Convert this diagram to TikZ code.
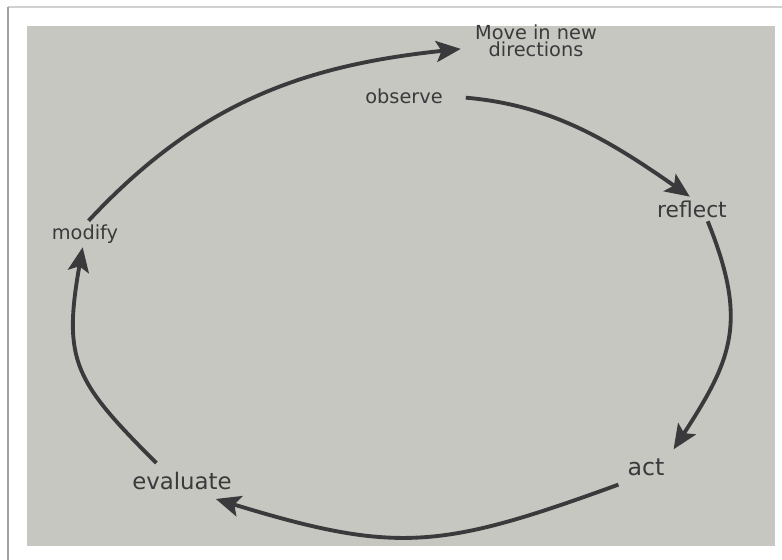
\documentclass[tikz,border=0pt]{standalone}
\usepackage{fontspec}
\setmainfont{DejaVu Sans}
\usetikzlibrary{arrows.meta}
\definecolor{pagegray}{RGB}{199,199,193}
\definecolor{inkgray}{RGB}{58,58,60}
\definecolor{framegray}{RGB}{160,160,160}

\begin{document}
\begin{tikzpicture}[x=0.02cm,y=0.02cm,
    stage/.style={text=inkgray, inner sep=2pt},
    looparrow/.style={draw=inkgray, line width=2.2pt, -{Stealth[length=14pt,width=12pt,inset=3pt]}}]
  \useasboundingbox (0,0) rectangle (782,560);
  % photo frame
  \draw[framegray!50, line width=0.6pt] (8,553) -- (782,553);
  \draw[framegray, line width=1.4pt] (8,553) -- (8,0);
  \fill[pagegray] (27,14) rectangle (775,534);
  % stages
  \node[stage, font=\fontsize{11}{7.5}\selectfont, align=center, inner xsep=8pt] (move) at (536,519) {Move in new\\directions};
  \node[stage, font=\fontsize{11}{13}\selectfont] (observe) at (404,464) {observe};
  \node[stage, font=\fontsize{12.4}{14}\selectfont] (reflect) at (692,351) {reflect};
  \node[stage, font=\fontsize{13.5}{15}\selectfont, inner sep=5pt] (act) at (646,93) {act};
  \node[stage, font=\fontsize{13}{15}\selectfont, inner sep=5pt] (evaluate) at (182,79) {evaluate};
  \node[stage, font=\fontsize{11}{13}\selectfont] (modify) at (85,326) {modify};
  % cycle
  \draw[looparrow] (modify.75) to[out=47, in=186] (move.186);
  \draw[looparrow, shorten <=11pt] (observe.east) to[out=-5, in=145] (reflect.100);
  \draw[looparrow] (reflect.-38) to[out=-68, in=57, looseness=1.2] (act.north east);
  \draw[looparrow] (act.south west) to[out=200, in=-17, looseness=1.2] (evaluate.-28);
  \draw[looparrow] (evaluate.145) to[out=135, in=-100, looseness=1.3] (modify.-100);
\end{tikzpicture}
\end{document}
